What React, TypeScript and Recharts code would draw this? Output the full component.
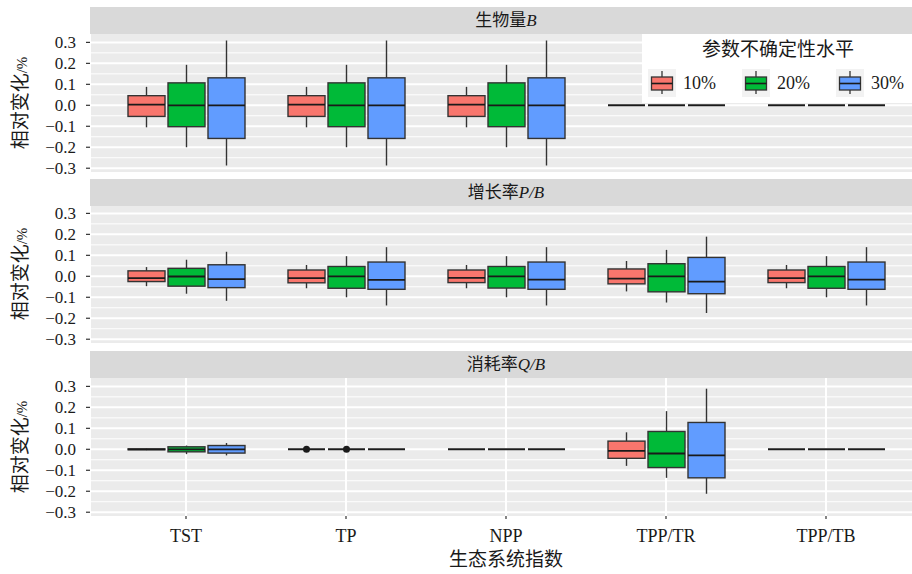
import React from "react";
import { ComposedChart, Bar, XAxis, YAxis, CartesianGrid } from "recharts";

const FONT = '"Liberation Serif", "Noto Sans CJK SC", serif';

const categories = ["TST", "TP", "NPP", "TPP/TR", "TPP/TB"];
const levels = ["10%", "20%", "30%"];
const levelColors = ["#F8766D", "#00BA38", "#619CFF"];
const yTicks = [-0.3, -0.2, -0.1, 0, 0.1, 0.2, 0.3];
const yMinor = [-0.25, -0.15, -0.05, 0.05, 0.15, 0.25];

// five-number summaries per category: [lower whisker, q1, median, q3, upper whisker]
const biomass10 = [
  [-0.105, -0.053, 0.003, 0.046, 0.088],
  [-0.105, -0.053, 0.003, 0.046, 0.088],
  [-0.105, -0.053, 0.003, 0.046, 0.088],
  [0, 0, 0, 0, 0],
  [0, 0, 0, 0, 0],
];
const biomass20 = [
  [-0.2, -0.102, 0, 0.107, 0.193],
  [-0.2, -0.102, 0, 0.107, 0.193],
  [-0.2, -0.102, 0, 0.107, 0.193],
  [0, 0, 0, 0, 0],
  [0, 0, 0, 0, 0],
];
const biomass30 = [
  [-0.287, -0.158, 0, 0.131, 0.309],
  [-0.287, -0.158, 0, 0.131, 0.309],
  [-0.287, -0.158, 0, 0.131, 0.309],
  [0, 0, 0, 0, 0],
  [0, 0, 0, 0, 0],
];

const growth10 = [
  [-0.047, -0.025, -0.009, 0.026, 0.044],
  [-0.057, -0.031, -0.009, 0.03, 0.054],
  [-0.057, -0.03, -0.007, 0.03, 0.054],
  [-0.072, -0.036, -0.011, 0.035, 0.073],
  [-0.057, -0.03, -0.009, 0.03, 0.054],
];
const growth20 = [
  [-0.083, -0.047, -0.001, 0.038, 0.079],
  [-0.1, -0.057, 0, 0.047, 0.096],
  [-0.1, -0.056, 0, 0.047, 0.096],
  [-0.125, -0.074, 0, 0.06, 0.126],
  [-0.1, -0.057, 0, 0.047, 0.096],
];
const growth30 = [
  [-0.117, -0.054, -0.013, 0.055, 0.117],
  [-0.139, -0.062, -0.017, 0.068, 0.139],
  [-0.139, -0.062, -0.016, 0.068, 0.139],
  [-0.175, -0.083, -0.025, 0.09, 0.189],
  [-0.139, -0.062, -0.016, 0.068, 0.139],
];

const consume10 = [
  [-0.004, -0.002, 0, 0.002, 0.004],
  [0, 0, 0, 0, 0],
  [0, 0, 0, 0, 0],
  [-0.079, -0.043, -0.007, 0.039, 0.081],
  [0, 0, 0, 0, 0],
];
const consume20 = [
  [-0.023, -0.012, 0, 0.012, 0.018],
  [0, 0, 0, 0, 0],
  [0, 0, 0, 0, 0],
  [-0.136, -0.087, -0.02, 0.085, 0.182],
  [0, 0, 0, 0, 0],
];
const consume30 = [
  [-0.029, -0.018, 0, 0.018, 0.03],
  [0, 0, 0, 0, 0],
  [0, 0, 0, 0, 0],
  [-0.212, -0.136, -0.029, 0.128, 0.289],
  [0, 0, 0, 0, 0],
];
const consumeOutliers10 = [[], [0], [], [], []];
const consumeOutliers20 = [[], [0], [], [], []];
const noOutliers = [[], [], [], [], []];

const buildRows = (stats: number[][][], outliers: number[][][]) =>
  categories.map((name, i) => {
    const row: any = { name, stats: [], outliers: [] };
    stats.forEach((s, k) => {
      row["v" + k] = [s[i][0], s[i][4]];
      row.stats.push(s[i]);
      row.outliers.push(outliers[k][i]);
    });
    return row;
  });

const panels = [
  {
    title: "生物量",
    sym: "B",
    rows: buildRows([biomass10, biomass20, biomass30], [noOutliers, noOutliers, noOutliers]),
  },
  {
    title: "增长率",
    sym: "P/B",
    rows: buildRows([growth10, growth20, growth30], [noOutliers, noOutliers, noOutliers]),
  },
  {
    title: "消耗率",
    sym: "Q/B",
    rows: buildRows([consume10, consume20, consume30], [consumeOutliers10, consumeOutliers20, noOutliers]),
  },
];

function BoxShape(props: any) {
  const { x, y, width, height, payload, level } = props;
  const [lo, q1, md, q3, hi] = payload.stats[level];
  const top = Math.min(y, y + height);
  const bot = Math.max(y, y + height);
  const span = hi - lo;
  const py = (v: number) => (span > 0 ? bot - ((v - lo) / span) * (bot - top) : top);
  const cx = x + width / 2;
  const outs: number[] = payload.outliers[level] || [];
  return (
    <g>
      {span > 0 ? (
        <>
          <line x1={cx} x2={cx} y1={py(hi)} y2={py(q3)} stroke="#333333" strokeWidth={1.4} />
          <line x1={cx} x2={cx} y1={py(q1)} y2={py(lo)} stroke="#333333" strokeWidth={1.4} />
          <rect
            x={x}
            y={py(q3)}
            width={width}
            height={Math.max(py(q1) - py(q3), 0.5)}
            fill={levelColors[level]}
            stroke="#333333"
            strokeWidth={1.4}
          />
          <line x1={x} x2={x + width} y1={py(md)} y2={py(md)} stroke="#1A1A1A" strokeWidth={1.8} />
        </>
      ) : (
        <line x1={x} x2={x + width} y1={top} y2={top} stroke="#1A1A1A" strokeWidth={2} />
      )}
      {outs.map((v, j) => (
        <circle key={j} cx={cx} cy={py(v)} r={3.5} fill="#1A1A1A" />
      ))}
    </g>
  );
}

function LegendKey({ color }: { color: string }) {
  return (
    <svg width={28} height={28} style={{ display: "block" }}>
      <rect x={0} y={0} width={28} height={28} fill="#F2F2F2" />
      <line x1={14} x2={14} y1={2} y2={25} stroke="#333333" strokeWidth={1.3} />
      <rect x={3.5} y={8} width={21} height={13} fill={color} stroke="#333333" strokeWidth={1.3} />
      <line x1={3.5} x2={24.5} y1={14.5} y2={14.5} stroke="#1A1A1A" strokeWidth={1.6} />
    </svg>
  );
}

const panelTops = [34, 205, 378];
const stripTops = [7, 179, 351];
const PAD_TOP = 6;
const PAD_BOTTOM = 8;

export default function App() {
  return (
    <div
      style={{
        position: "absolute",
        left: 0,
        top: 0,
        width: 912,
        height: 574,
        overflow: "hidden",
        background: "#fff",
        fontFamily: FONT,
        color: "#1A1A1A",
      }}
    >
      {panels.map((p, pi) => {
        const last = pi === panels.length - 1;
        return (
          <React.Fragment key={pi}>
            <div style={{ position: "absolute", left: 0, top: panelTops[pi] - PAD_TOP }}>
              <ComposedChart
                width={922}
                height={138 + PAD_TOP + (last ? 42 : PAD_BOTTOM)}
                data={p.rows}
                margin={{ top: PAD_TOP, right: 0, bottom: last ? 0 : PAD_BOTTOM, left: 0 }}
                barSize={37}
                barGap={3}
              >
                <CartesianGrid
                  fill="#EBEBEB"
                  stroke="#FFFFFF"
                  strokeWidth={1}
                  vertical={false}
                  horizontalValues={yMinor}
                />
                <CartesianGrid
                  stroke="#FFFFFF"
                  strokeWidth={2}
                  horizontalValues={yTicks}
                />
                <XAxis
                  dataKey="name"
                  type="category"
                  padding={{ left: 16, right: 16 }}
                  height={last ? 42 : 0}
                  axisLine={false}
                  tick={last ? { fontSize: 18, fill: "#1A1A1A", fontFamily: FONT } : false}
                  tickLine={last ? { stroke: "#333333", strokeWidth: 1.2 } : false}
                  tickSize={3}
                  tickMargin={10}
                  interval={0}
                />
                <YAxis
                  type="number"
                  domain={[-0.318, 0.34]}
                  ticks={yTicks}
                  interval={0}
                  allowDataOverflow
                  width={90}
                  axisLine={false}
                  tickLine={{ stroke: "#333333", strokeWidth: 1.2 }}
                  tickSize={4}
                  tickMargin={10}
                  tick={{ fontSize: 17, fill: "#1A1A1A", fontFamily: FONT }}
                  tickFormatter={(v: number) =>
                    v < 0 ? "\u2212" + Math.abs(v).toFixed(1) : v.toFixed(1)
                  }
                />
                {levels.map((lv, k) => (
                  <Bar
                    key={lv}
                    dataKey={"v" + k}
                    name={lv}
                    fill={levelColors[k]}
                    isAnimationActive={false}
                    shape={(sp: any) => <BoxShape {...sp} level={k} />}
                  />
                ))}
              </ComposedChart>
            </div>
            <div
              style={{
                position: "absolute",
                left: 90,
                top: stripTops[pi],
                width: 832,
                height: 27,
                background: "#D9D9D9",
                textAlign: "center",
                fontSize: 17,
                lineHeight: "27px",
              }}
            >
              {p.title}
              <i>{p.sym}</i>
            </div>
            <div
              style={{
                position: "absolute",
                left: 21 - 60,
                top: panelTops[pi] + 69 - 12,
                width: 120,
                height: 24,
                lineHeight: "24px",
                textAlign: "center",
                fontSize: 19,
                transform: "rotate(-90deg)",
                whiteSpace: "nowrap",
              }}
            >
              相对变化<span style={{ fontSize: 15 }}>/%</span>
            </div>
          </React.Fragment>
        );
      })}

      <div
        style={{
          position: "absolute",
          left: 406,
          width: 200,
          top: 547,
          textAlign: "center",
          fontSize: 19,
          lineHeight: "26px",
        }}
      >
        生态系统指数
      </div>

      <div
        style={{
          position: "absolute",
          left: 642,
          top: 34,
          width: 280,
          height: 69,
          background: "#FFFFFF",
        }}
      >
        <div
          style={{
            position: "absolute",
            left: 0,
            width: 272,
            top: 3,
            textAlign: "center",
            fontSize: 19,
            lineHeight: "26px",
          }}
        >
          参数不确定性水平
        </div>
        {levels.map((lv, k) => (
          <div
            key={lv}
            style={{
              position: "absolute",
              left: 6 + k * 94,
              top: 35,
              display: "flex",
              alignItems: "center",
            }}
          >
            <LegendKey color={levelColors[k]} />
            <span style={{ marginLeft: 7, fontSize: 18 }}>{lv}</span>
          </div>
        ))}
      </div>
    </div>
  );
}
